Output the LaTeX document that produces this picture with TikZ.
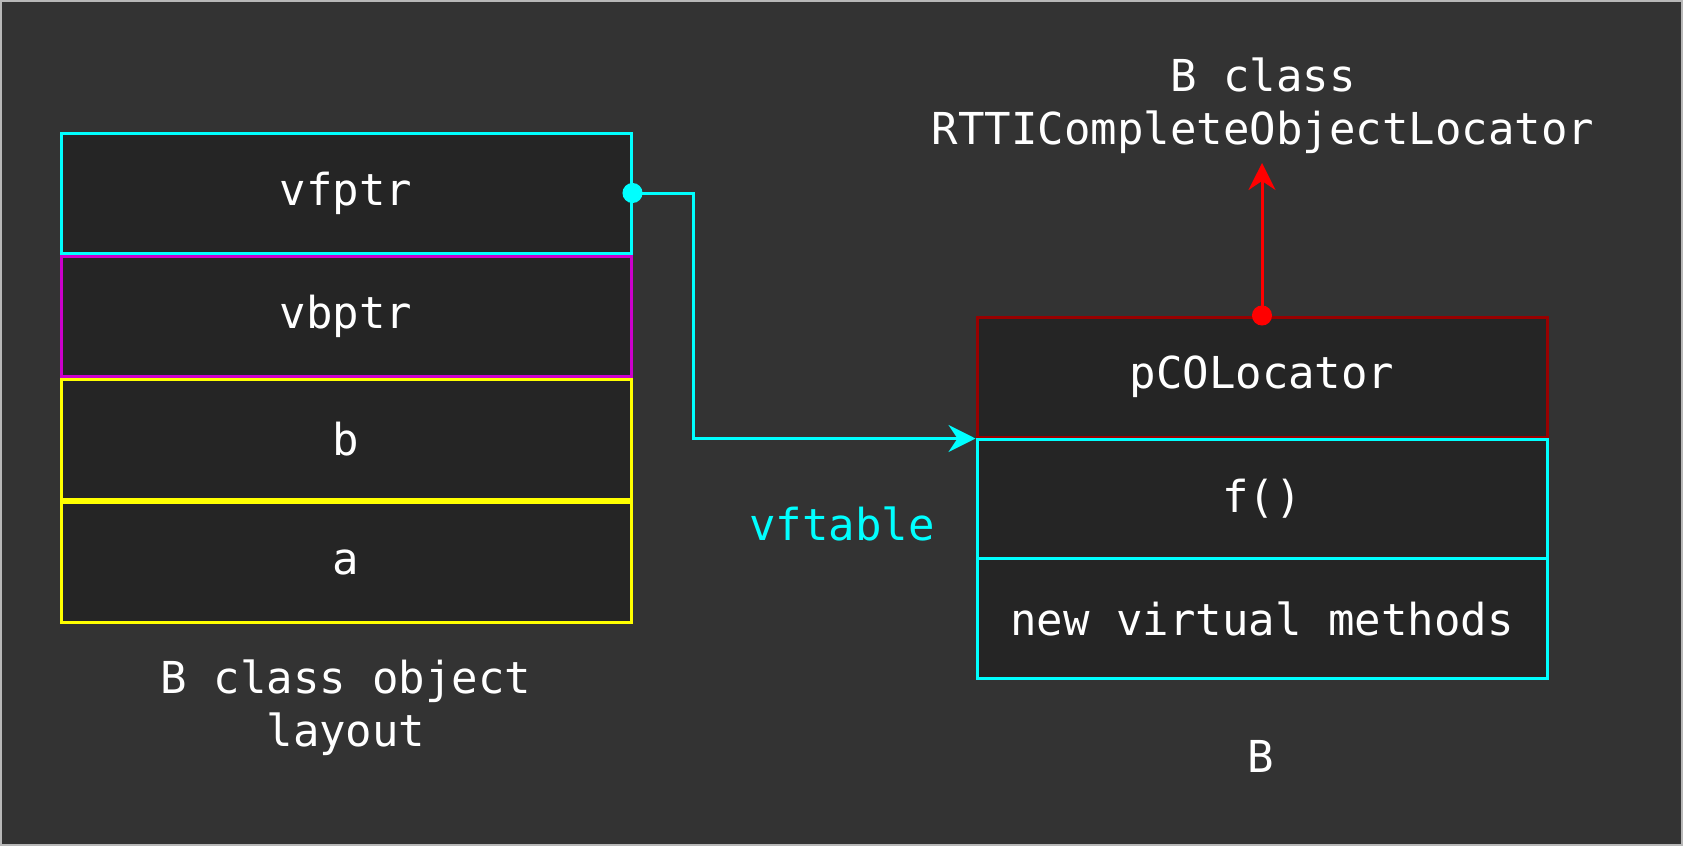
\documentclass[tikz,border=0pt]{standalone}
\usepackage{fontspec}
\setmonofont{DejaVu Sans Mono}
\usetikzlibrary{arrows.meta}
\definecolor{bgc}{HTML}{333333}
\definecolor{boxc}{HTML}{252525}
\definecolor{cyanc}{HTML}{00FFFF}
\definecolor{magc}{HTML}{CC00CC}
\definecolor{yelc}{HTML}{FFFF00}
\definecolor{dredc}{HTML}{990000}
\definecolor{redc}{HTML}{FF0000}
\definecolor{edgec}{HTML}{B8B8B8}
\begin{document}
\begin{tikzpicture}[x=1pt,y=-1pt,
  cell/.style={draw, fill=boxc, line width=3pt, minimum width=570pt, minimum height=120pt,
    inner sep=0pt, text=white, font=\ttfamily\fontsize{44}{53}\selectfont},
  lbl/.style={inner sep=0pt, text=white, align=center, font=\ttfamily\fontsize{44}{53}\selectfont},
  link/.style={line width=3pt, shorten <=-10pt,
    {Circle[length=20pt]}-{Stealth[length=27pt,width=27pt,inset=9pt]}}]
\useasboundingbox (0,0) rectangle (1683,846);
\fill[bgc] (0,0) rectangle (1683,846);
\draw[edgec, line width=2pt] (1,1) rectangle (1682,845);
% left object layout
\node[cell, draw=cyanc] (vfptr) at (346,193) {vfptr};
\node[cell, draw=magc] (vbptr) at (346,316.5) {vbptr};
\node[cell, draw=yelc] (b) at (346,439.5) {b};
\node[cell, draw=yelc] (a) at (346,562) {a};
\node[lbl] (layout) at (346,708) {B class object\\layout};
% right vftable
\node[cell, draw=dredc] (pco) at (1262,377) {pCOLocator};
\node[cell, draw=cyanc] (f) at (1262,499) {f()};
\node[cell, draw=cyanc] (nvm) at (1262,618.5) {new virtual methods};
\node[lbl, text=cyanc, anchor=base] (vft) at (842,540) {vftable};
\node[lbl, anchor=base] (bl) at (1261,772) {B};
\node[lbl] (rtti) at (1263,106) {B class\\RTTICompleteObjectLocator};
\coordinate (rttiend) at (1262,163);
% connectors
\draw[link, cyanc] (vfptr.east) -- ++(61,0) |- (pco.south west);
\draw[link, redc] (pco.north) -- (rttiend);
\end{tikzpicture}
\end{document}
